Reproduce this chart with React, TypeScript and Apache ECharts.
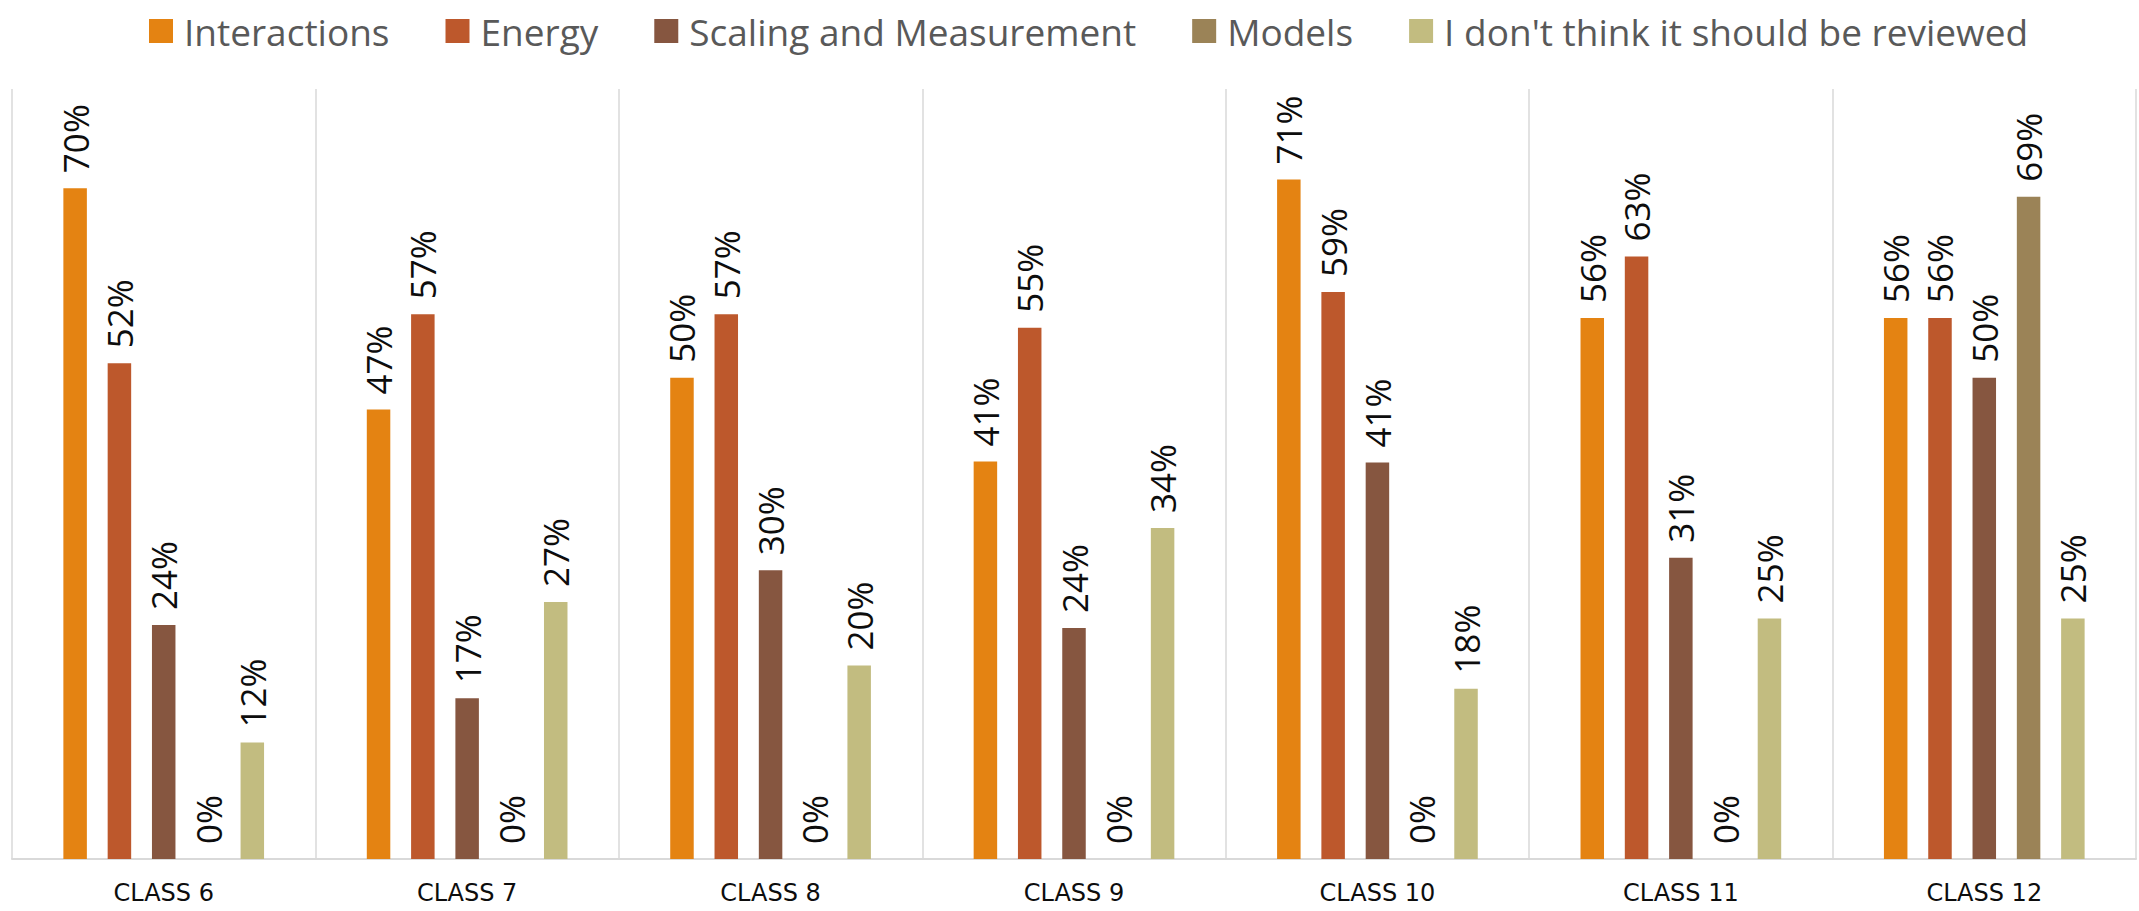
import React, { useEffect, useRef } from "react";
import * as echarts from "echarts";

const categories = ["CLASS 6", "CLASS 7", "CLASS 8", "CLASS 9", "CLASS 10", "CLASS 11", "CLASS 12"];
const seriesNames = [
  "Interactions",
  "Energy",
  "Scaling and Measurement",
  "Models",
  "I don't think it should be reviewed",
];
const interactions = [69.7, 46.7, 50, 41.3, 70.6, 56.2, 56.2];
const energy = [51.5, 56.6, 56.6, 55.2, 58.9, 62.6, 56.2];
const scaling = [24.3, 16.7, 30, 24, 41.2, 31.3, 50];
const models = [0, 0, 0, 0, 0, 0, 68.8];
const notReviewed = [12.1, 26.7, 20.1, 34.4, 17.7, 25, 25];
const colors = ["#E48312", "#BD582C", "#865640", "#9B8357", "#C2BC80"];

export default function App() {
  const ref = useRef<HTMLDivElement>(null);
  useEffect(() => {
    if (!ref.current) return;
    const chart = echarts.init(ref.current, null, { renderer: "svg" });
    const values = [interactions, energy, scaling, models, notReviewed];
    chart.setOption({
      animation: false,
      backgroundColor: "#ffffff",
      color: colors,
      legend: {
        data: seriesNames,
        left: 144,
        top: 6,
        icon: "rect",
        itemWidth: 24,
        itemHeight: 24,
        itemGap: 56,
        textStyle: {
          fontFamily: "Open Sans",
          fontSize: 37,
          color: "#595959",
          lineHeight: 40,
          padding: [0, 0, 0, 6],
        },
      },
      grid: { left: 12, right: 3, top: 89, bottom: 52, containLabel: false },
      xAxis: {
        type: "category",
        data: categories,
        axisLine: { show: true, lineStyle: { color: "#d9d9d9", width: 2 } },
        axisTick: { show: false },
        splitLine: { show: true, lineStyle: { color: "#d9d9d9", width: 1.5 } },
        axisLabel: {
          fontFamily: "DejaVu Sans",
          fontSize: 24,
          color: "#0d0d0d",
          margin: 22,
        },
      },
      yAxis: {
        type: "value",
        min: 0,
        max: 80,
        show: false,
        splitLine: { show: false },
      },
      series: seriesNames.map((name, i) => ({
        name,
        type: "bar",
        data: values[i],
        barWidth: 23.5,
        barGap: "88.5%",
        itemStyle: { color: colors[i] },
        label: {
          show: true,
          position: "top",
          rotate: 90,
          align: "left",
          verticalAlign: "middle",
          distance: 15,
          fontFamily: "Open Sans",
          fontSize: 35,
          color: "#0d0d0d",
          formatter: (p: any) => Math.round(p.value) + "%",
        },
      })),
    });
    return () => chart.dispose();
  }, []);
  return (
    <div
      ref={ref}
      style={{ position: "absolute", left: 0, top: 0, width: 2139, height: 911 }}
    />
  );
}
